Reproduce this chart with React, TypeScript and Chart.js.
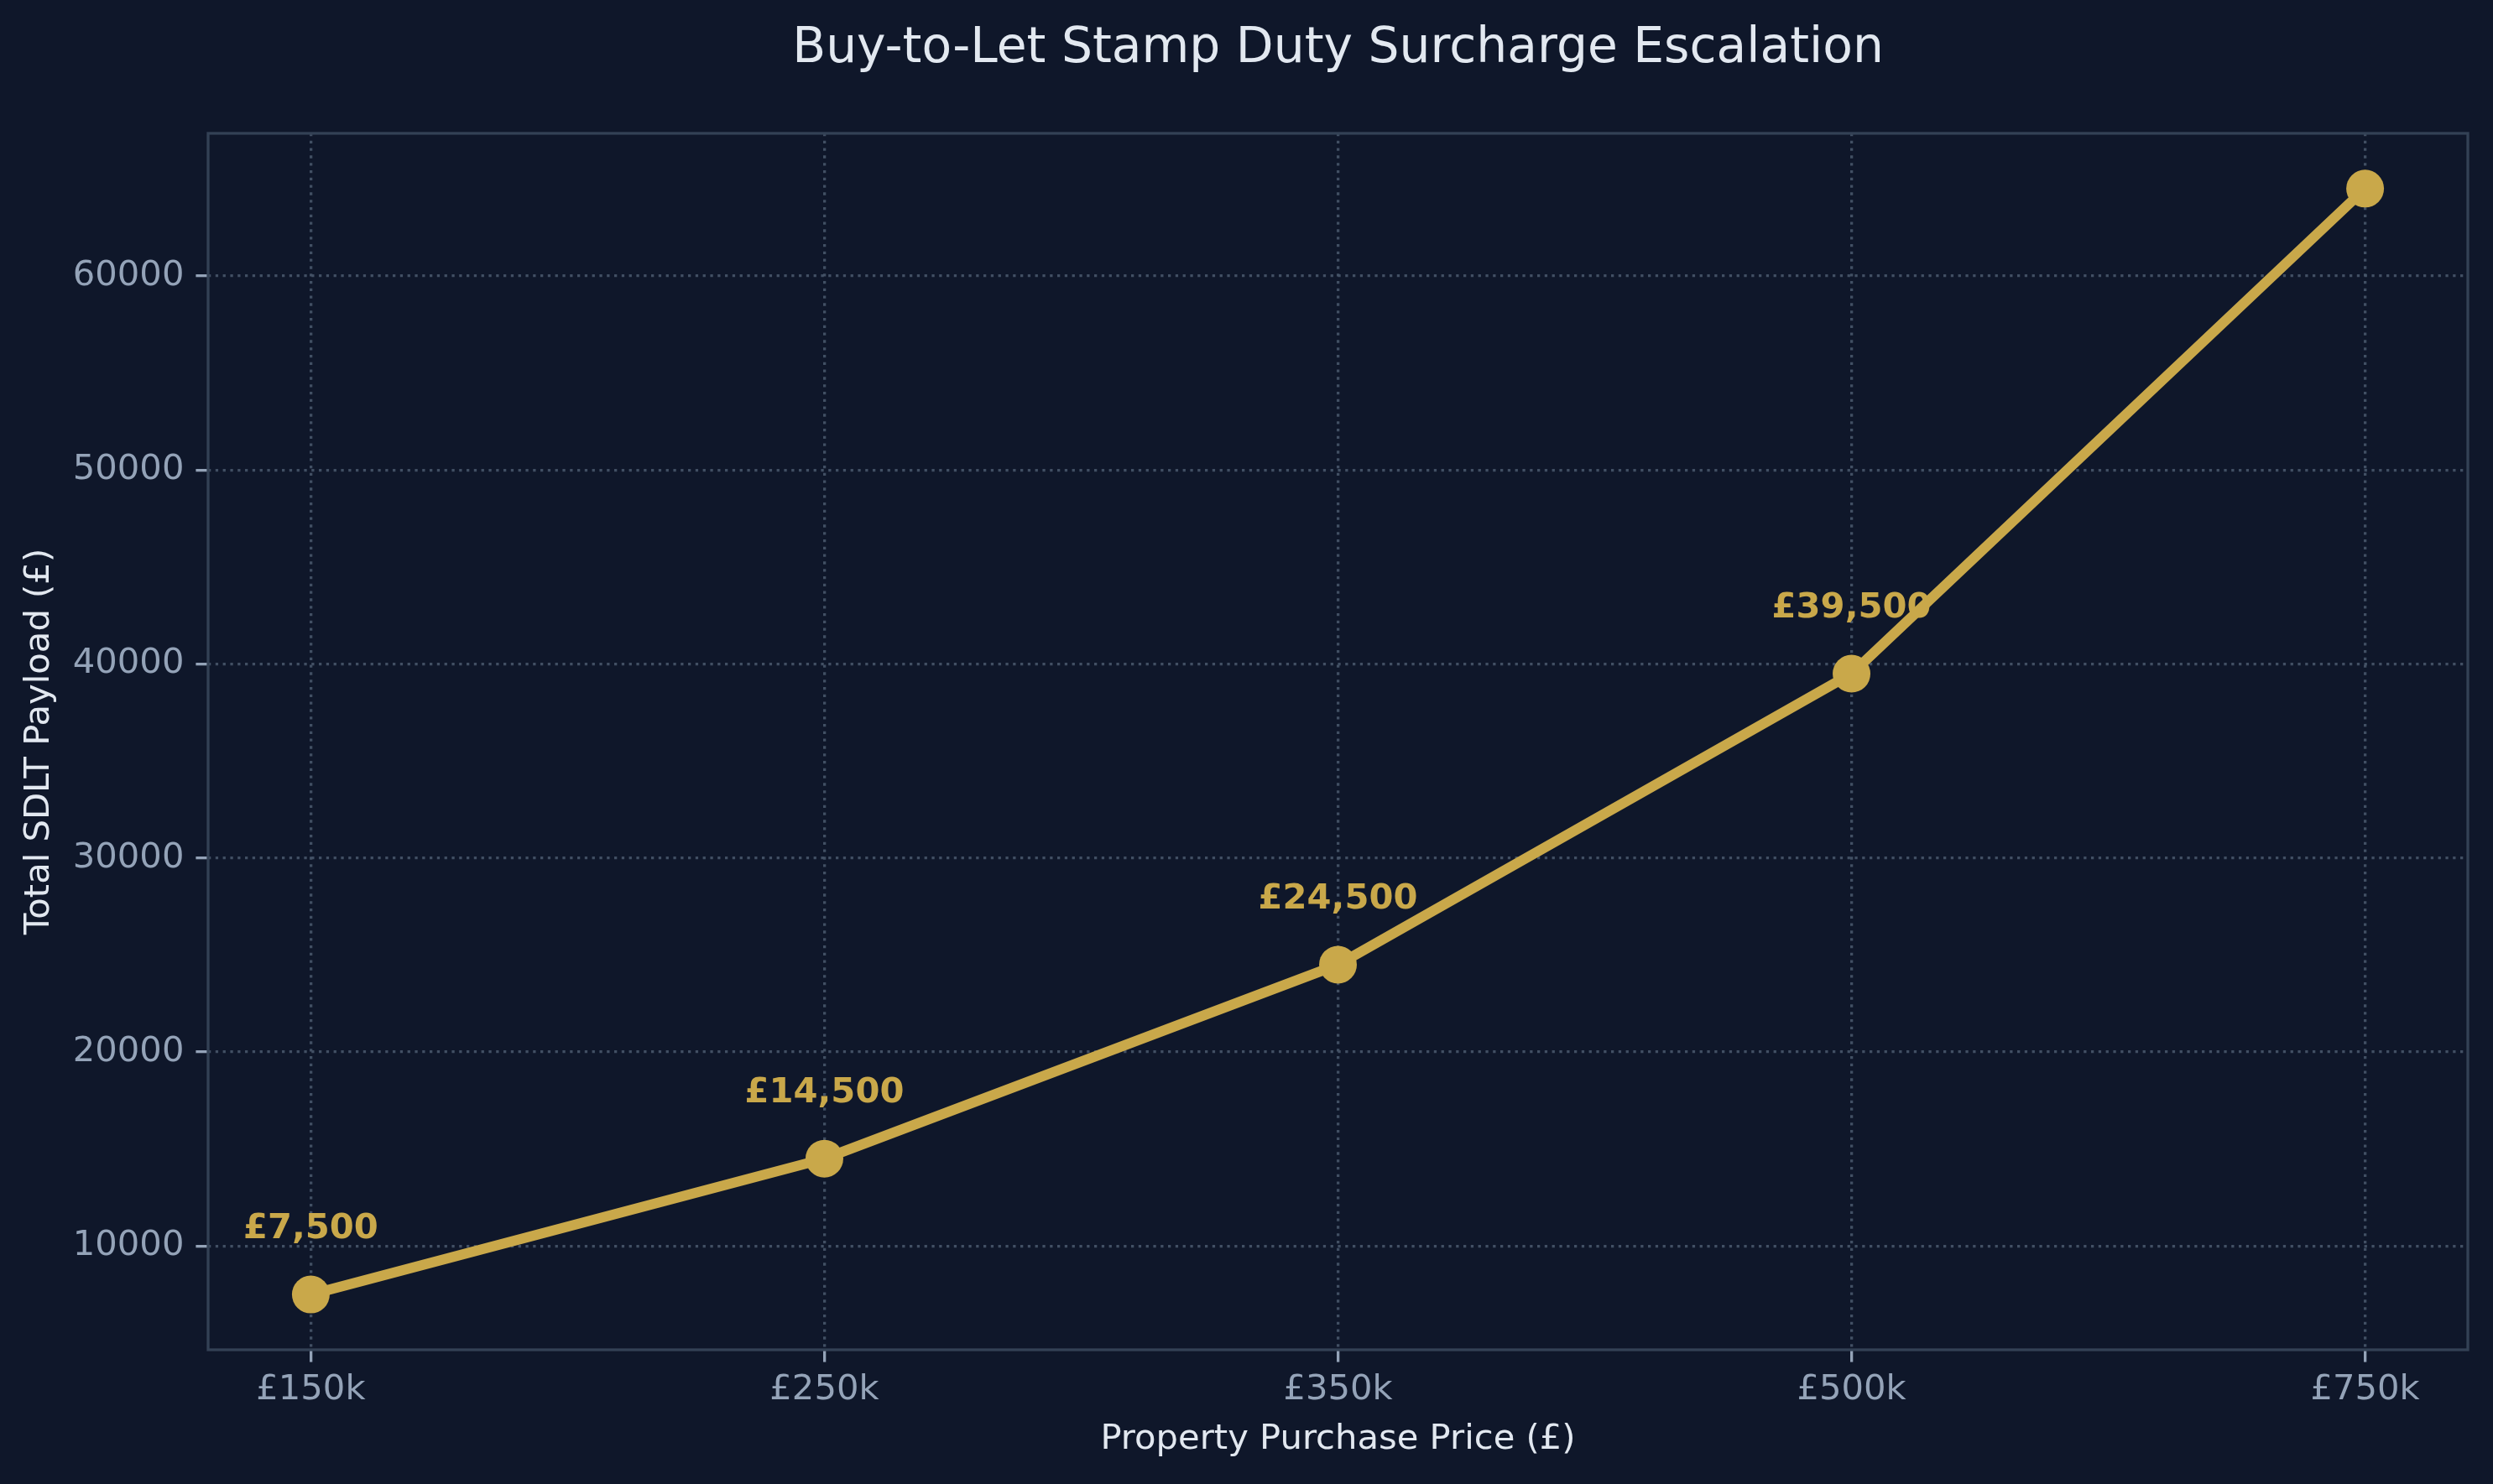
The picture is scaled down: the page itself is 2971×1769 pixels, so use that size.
import React, { useEffect, useRef } from "react";
import { Chart, registerables } from "chart.js";

Chart.register(...registerables);

const categories = ["£150k", "£250k", "£350k", "£500k", "£750k"];
const sdltValues = [7500, 14500, 24500, 39500, 64500];
const labelledPoints = [true, true, true, true, false];
const yTickValues = [10000, 20000, 30000, 40000, 50000, 60000];
const yMin = 4650;
const yMax = 67350;
const xMin = -0.2;
const xMax = 4.2;

const TITLE = "Buy-to-Let Stamp Duty Surcharge Escalation";
const X_TITLE = "Property Purchase Price (£)";
const Y_TITLE = "Total SDLT Payload (£)";

const BG = "#0f172a";
const GOLD = "#c9a84a";
const TICK = "#94a3b8";
const TEXT = "#e2e8f0";
const GRID = "rgba(71,85,105,0.9)";
const FRAME = "#334155";
const FONT = "'DejaVu Sans', sans-serif";

const W = 2971;
const H = 1769;

function fmt(v: number): string {
  return "£" + String(v).replace(/\B(?=(\d{3})+(?!\d))/g, ",");
}

export default function App() {
  const ref = useRef<HTMLCanvasElement | null>(null);

  useEffect(() => {
    document.body.style.background = BG;
    const canvas = ref.current;
    if (!canvas) return;

    const bgPlugin = {
      id: "bg",
      beforeDraw(chart: any) {
        const ctx = chart.ctx;
        ctx.save();
        ctx.fillStyle = BG;
        ctx.fillRect(0, 0, chart.width, chart.height);
        ctx.restore();
      },
    };

    const framePlugin = {
      id: "frame",
      beforeDatasetsDraw(chart: any) {
        const { ctx, chartArea } = chart;
        ctx.save();
        ctx.strokeStyle = FRAME;
        ctx.lineWidth = 3.3;
        ctx.strokeRect(chartArea.left, chartArea.top, chartArea.right - chartArea.left, chartArea.bottom - chartArea.top);
        ctx.restore();
      },
    };

    const labelPlugin = {
      id: "vlabels",
      afterDatasetsDraw(chart: any) {
        const ctx = chart.ctx;
        const meta = chart.getDatasetMeta(0);
        ctx.save();
        ctx.fillStyle = GOLD;
        ctx.font = `bold 41.7px ${FONT}`;
        ctx.textAlign = "center";
        ctx.textBaseline = "alphabetic";
        meta.data.forEach((pt: any, i: number) => {
          if (!labelledPoints[i]) return;
          ctx.fillText(fmt(sdltValues[i]), pt.x, pt.y - 67);
        });
        ctx.restore();
      },
    };

    const chart = new Chart(canvas, {
      type: "line",
      data: {
        datasets: [
          {
            data: categories.map((_, i) => ({ x: i, y: sdltValues[i] })),
            borderColor: GOLD,
            backgroundColor: GOLD,
            borderWidth: 12,
            pointRadius: 22.5,
            pointHoverRadius: 22.5,
            pointBackgroundColor: GOLD,
            pointBorderWidth: 0,
            tension: 0,
            clip: false as any,
          },
        ],
      },
      options: {
        responsive: false,
        animation: false,
        devicePixelRatio: 1,
        layout: { padding: { left: 0, right: 30, top: 0, bottom: 0 } },
        plugins: {
          legend: { display: false },
          tooltip: { enabled: false },
          title: {
            display: true,
            text: TITLE,
            color: TEXT,
            fullSize: false,
            font: { family: FONT, size: 58.3, weight: "normal" as any, lineHeight: 1.2 },
            padding: { top: 24, bottom: 65 },
          },
        },
        scales: {
          x: {
            type: "linear",
            min: xMin,
            max: xMax,
            afterBuildTicks(scale: any) {
              scale.ticks = categories.map((_, i) => ({ value: i }));
            },
            afterFit(scale: any) {
              scale.height = 160;
            },
            ticks: {
              color: TICK,
              font: { family: FONT, size: 41.7 },
              padding: 9,
              maxRotation: 0,
              autoSkip: false,
              callback: (v: any) => categories[v] ?? "",
            },
            grid: {
              color: GRID,
              lineWidth: 3.3,
              drawTicks: true,
              tickLength: 14.6,
              tickColor: TICK,
              tickWidth: 3.3,
            },
            border: { display: false, dash: [3.3, 5.5] },
            title: {
              display: true,
              text: X_TITLE,
              color: TEXT,
              font: { family: FONT, size: 41.7 },
              padding: { top: 0, bottom: 28 },
            },
          },
          y: {
            type: "linear",
            min: yMin,
            max: yMax,
            afterBuildTicks(scale: any) {
              scale.ticks = yTickValues.map((v) => ({ value: v }));
            },
            afterFit(scale: any) {
              scale.width = 248;
            },
            ticks: {
              color: TICK,
              font: { family: FONT, size: 41.7 },
              padding: 14,
              autoSkip: false,
              callback: (v: any) => String(v),
            },
            grid: {
              color: GRID,
              lineWidth: 3.3,
              drawTicks: true,
              tickLength: 14.6,
              tickColor: TICK,
              tickWidth: 3.3,
            },
            border: { display: false, dash: [3.3, 5.5] },
            title: {
              display: true,
              text: Y_TITLE,
              color: TEXT,
              font: { family: FONT, size: 41.7 },
              padding: { top: 22, bottom: 0 },
            },
          },
        },
      },
      plugins: [bgPlugin, framePlugin, labelPlugin],
    } as any);

    return () => chart.destroy();
  }, []);

  return (
    <div style={{ position: "fixed", left: 0, top: 0, width: W, height: H, background: BG }}>
      <canvas ref={ref} width={W} height={H} style={{ display: "block", width: W, height: H }} />
    </div>
  );
}
